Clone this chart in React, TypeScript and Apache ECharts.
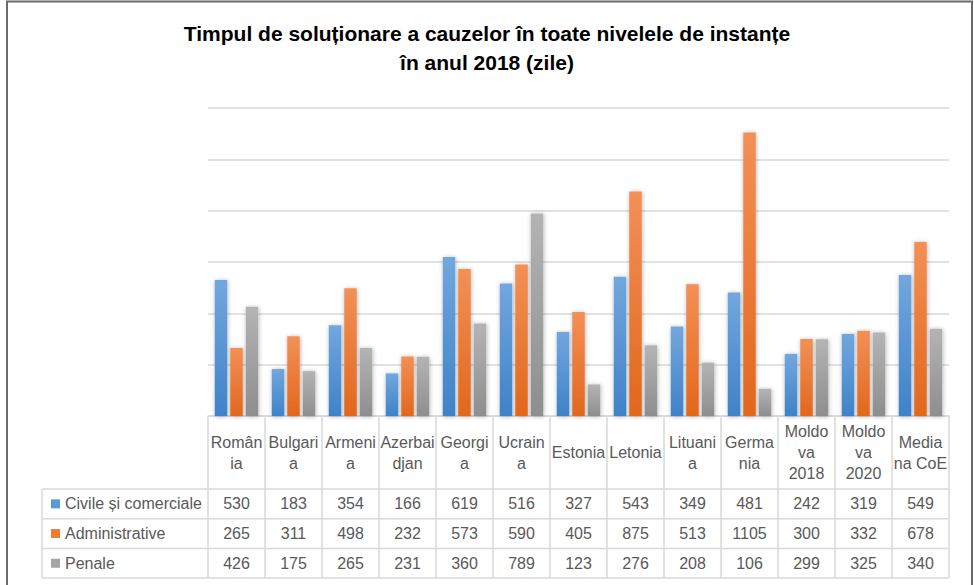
import React, { useEffect, useRef } from "react";
import * as echarts from "echarts";

const categories = [
  "Român\nia", "Bulgari\na", "Armeni\na", "Azerbai\ndjan", "Georgi\na", "Ucrain\na",
  "Estonia", "Letonia", "Lituani\na", "Germa\nnia", "Moldo\nva\n2018", "Moldo\nva\n2020", "Media\nna CoE",
];
const seriesNames = ["Civile și comerciale", "Administrative", "Penale"];
const civile = [530, 183, 354, 166, 619, 516, 327, 543, 349, 481, 242, 319, 549];
const administrative = [265, 311, 498, 232, 573, 590, 405, 875, 513, 1105, 300, 332, 678];
const penale = [426, 175, 265, 231, 360, 789, 123, 276, 208, 106, 299, 325, 340];
const yTicks = [0, 200, 400, 600, 800, 1000, 1200];

const W = 974;
const H = 585;
const GRID_LEFT = 208;
const GRID_RIGHT = 949;
const GRID_TOP = 108;
const GRID_BOTTOM = 416;
const HEADER_BOTTOM = 489;
const ROW_H = 29.7;
const TABLE_LEFT = 42;
const LINE = "#d9d9d9";
const TXT = "#595959";
const FONT = "Liberation Sans";

const grad = (top: string, bottom: string) =>
  new echarts.graphic.LinearGradient(0, 0, 0, 1, [
    { offset: 0, color: top },
    { offset: 1, color: bottom },
  ]);

const colors = [
  grad("#72a7de", "#3f82c8"),
  grad("#f39056", "#e2671d"),
  grad("#b4b4b4", "#8e8e8e"),
];
const legendColors = ["#5b9bd5", "#ed7d31", "#a5a5a5"];

export default function App() {
  const ref = useRef<HTMLDivElement>(null);
  useEffect(() => {
    if (!ref.current) return;
    const chart = echarts.init(ref.current, undefined, { renderer: "svg" });
    const rows = [civile, administrative, penale];
    const rowCenters = rows.map((_, i) => HEADER_BOTTOM + ROW_H * (i + 0.5));
    const tableBottom = HEADER_BOTTOM + ROW_H * rows.length;

    const valueAxes = rows.map((vals, i) => ({
      type: "category" as const,
      data: categories,
      position: "bottom" as const,
      offset: rowCenters[i] - GRID_BOTTOM,
      axisLine: { show: false },
      axisTick: { show: false },
      axisLabel: {
        interval: 0,
        margin: 0,
        verticalAlign: "middle" as const,
        color: TXT,
        fontSize: 16,
        fontFamily: FONT,
        formatter: (_: string, idx: number) => String(vals[idx]),
      },
    }));

    const hLines = [HEADER_BOTTOM, ...rowCenters.map((_, i) => HEADER_BOTTOM + ROW_H * (i + 1))].map((y) => ({
      type: "line",
      silent: true,
      shape: { x1: TABLE_LEFT, y1: y, x2: GRID_RIGHT, y2: y },
      style: { stroke: LINE, lineWidth: 1.5 },
    }));

    chart.setOption({
      animation: false,
      backgroundColor: "#ffffff",
      title: {
        text: "Timpul de soluționare a cauzelor în toate nivelele de instanțe\nîn anul 2018 (zile)",
        left: "center",
        top: 19,
        padding: 0,
        textStyle: {
          fontFamily: FONT,
          fontWeight: "bold",
          fontSize: 21,
          lineHeight: 29,
          color: "#000000",
        },
      },
      legend: {
        orient: "vertical",
        left: 51,
        top: rowCenters[0] - 10,
        padding: 0,
        height: 100,
        itemWidth: 9,
        itemHeight: 9,
        itemGap: ROW_H - 20,
        icon: "rect",
        selectedMode: false,
        data: seriesNames.map((n, i) => ({ name: n, itemStyle: { color: legendColors[i] } })),
        textStyle: { color: TXT, fontSize: 16, fontFamily: FONT, lineHeight: 20 },
      },
      grid: {
        left: GRID_LEFT,
        right: W - GRID_RIGHT,
        top: GRID_TOP,
        bottom: H - GRID_BOTTOM,
        containLabel: false,
      },
      xAxis: [
        {
          type: "category",
          data: categories,
          boundaryGap: true,
          axisLine: { show: true, lineStyle: { color: LINE, width: 1.5 } },
          axisTick: {
            show: true,
            length: tableBottom - GRID_BOTTOM,
            lineStyle: { color: LINE, width: 1.5 },
          },
          axisLabel: {
            interval: 0,
            margin: (HEADER_BOTTOM - GRID_BOTTOM) / 2,
            verticalAlign: "middle",
            align: "center",
            color: TXT,
            fontSize: 16,
            fontFamily: FONT,
            lineHeight: 21,
          },
        },
        ...valueAxes,
      ],
      yAxis: {
        type: "value",
        min: yTicks[0],
        max: yTicks[yTicks.length - 1],
        interval: yTicks[1] - yTicks[0],
        axisLine: { show: false },
        axisTick: { show: false },
        axisLabel: { show: false },
        splitLine: { lineStyle: { color: LINE, width: 1.5 } },
      },
      series: rows.map((vals, i) => ({
        name: seriesNames[i],
        type: "bar",
        data: vals,
        barWidth: 12.5,
        barGap: "24%",
        itemStyle: {
          color: colors[i],
          shadowBlur: 4,
          shadowColor: "rgba(0,0,0,0.3)",
          shadowOffsetX: 0.5,
          shadowOffsetY: 0.5,
        },
      })),
      graphic: [
        ...hLines,
        {
          type: "line",
          silent: true,
          shape: { x1: TABLE_LEFT, y1: HEADER_BOTTOM, x2: TABLE_LEFT, y2: tableBottom },
          style: { stroke: LINE, lineWidth: 1.5 },
        },
        {
          type: "rect",
          silent: true,
          shape: { x: 7, y: 1.5, width: 965, height: 600 },
          style: { fill: "none", stroke: "#6b6b6b", lineWidth: 2 },
        },
      ],
    });
    return () => chart.dispose();
  }, []);
  return (
    <div
      ref={ref}
      style={{ position: "fixed", left: 0, top: 0, width: W, height: H }}
    />
  );
}
